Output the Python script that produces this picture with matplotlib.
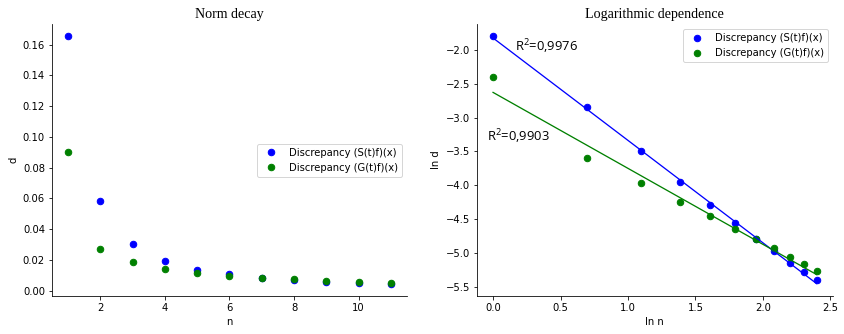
import numpy as np
import matplotlib
matplotlib.use('Agg')
import matplotlib.pyplot as plt

# discrepancy norms for n = 1..11
n = np.arange(1, 12)
d_S = [0.1653, 0.0581, 0.0303, 0.01915, 0.01364, 0.01050, 0.00826,
       0.00692, 0.00585, 0.00507, 0.00450]
d_G = [0.0904, 0.0273, 0.01887, 0.01426, 0.01165, 0.00958, 0.00826,
       0.00723, 0.00635, 0.00569, 0.00514]
label_S = 'Discrepancy (S(t)f)(x)'
label_G = 'Discrepancy (G(t)f)(x)'
r2_S = 'R$^{\\mathregular{2}}$=0,9976'
r2_G = 'R$^{\\mathregular{2}}$=0,9903'

ln_n = np.log(n)
ln_S = np.log(d_S)
ln_G = np.log(d_G)

# linear fits in log-log
k_S, b_S = np.polyfit(ln_n, ln_S, 1)
k_G, b_G = np.polyfit(ln_n, ln_G, 1)

fig = plt.figure(figsize=(844 / 72, 334 / 72), dpi=72)
ax0 = fig.add_axes([0.0616, 0.1138, 0.4206, 0.814])
ax1 = fig.add_axes([0.565, 0.1138, 0.4218, 0.814])

ax0.plot(n, d_S, 'o', color='b', markersize=6.5, label=label_S)
ax0.plot(n, d_G, 'o', color='g', markersize=6.5, label=label_G)
ax0.set_title('Norm decay', family='Liberation Serif', fontsize=14)
ax0.set_xlabel('n')
ax0.set_ylabel('d')
ax0.legend(loc='center right')

ax1.scatter(ln_n, ln_S, color='b', s=42, label=label_S)
ax1.scatter(ln_n, ln_G, color='g', s=42, label=label_G)
ax1.plot(ln_n, k_S * ln_n + b_S, color='b', linewidth=1.3)
ax1.plot(ln_n, k_G * ln_n + b_G, color='g', linewidth=1.3)
ax1.text(0.163, -2.025, r2_S, fontsize=13, va='baseline', family='Open Sans')
ax1.text(-0.047, -3.344, r2_G, fontsize=13, va='baseline', family='Open Sans')
ax1.set_title('Logarithmic dependence', family='Liberation Serif', fontsize=14)
ax1.set_xlabel('ln n')
ax1.set_ylabel('ln d')
ax1.legend(loc='upper right')

for ax in (ax0, ax1):
    ax.spines['top'].set_visible(False)
    ax.spines['right'].set_visible(False)

fig.savefig('out.png', dpi=72)
